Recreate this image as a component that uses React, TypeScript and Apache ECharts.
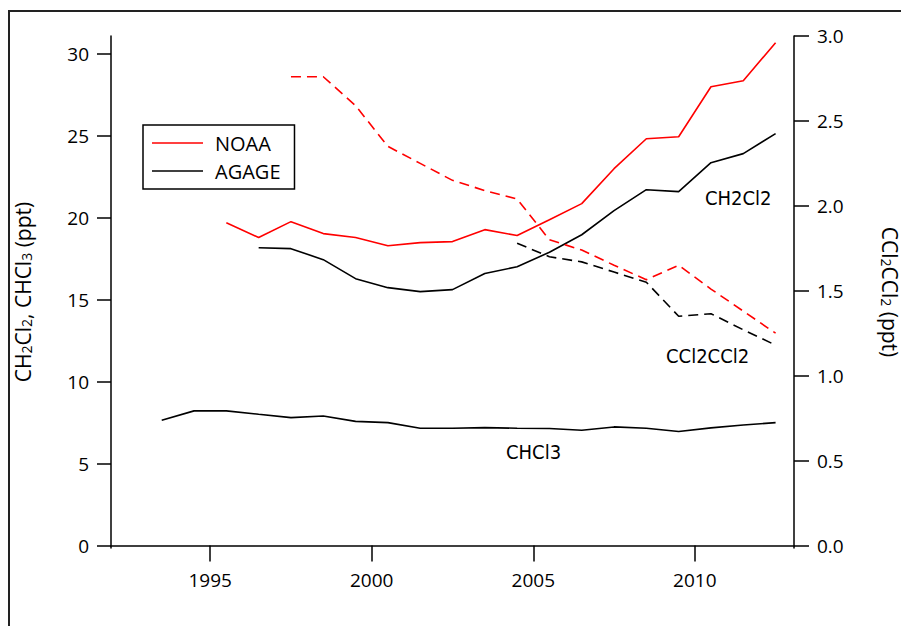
import React, { useEffect, useRef } from "react";
import * as echarts from "echarts";

const noaaCH2Cl2Years = [1995.5, 1996.5, 1997.5, 1998.5, 1999.5, 2000.5, 2001.5, 2002.5, 2003.5, 2004.5, 2005.5, 2006.5, 2007.5, 2008.5, 2009.5, 2010.5, 2011.5, 2012.5];
const noaaCH2Cl2 = [19.7, 18.8, 19.77, 19.04, 18.8, 18.3, 18.49, 18.55, 19.28, 18.92, 19.89, 20.87, 23.0, 24.83, 24.95, 28.0, 28.37, 30.69];

const agageCH2Cl2Years = [1996.5, 1997.5, 1998.5, 1999.5, 2000.5, 2001.5, 2002.5, 2003.5, 2004.5, 2005.5, 2006.5, 2007.5, 2008.5, 2009.5, 2010.5, 2011.5, 2012.5];
const agageCH2Cl2 = [18.18, 18.12, 17.45, 16.29, 15.74, 15.5, 15.62, 16.6, 17.02, 17.9, 18.97, 20.44, 21.72, 21.6, 23.37, 23.92, 25.14];

const agageCHCl3Years = [1993.5, 1994.5, 1995.5, 1996.5, 1997.5, 1998.5, 1999.5, 2000.5, 2001.5, 2002.5, 2003.5, 2004.5, 2005.5, 2006.5, 2007.5, 2008.5, 2009.5, 2010.5, 2011.5, 2012.5];
const agageCHCl3 = [7.65, 8.22, 8.22, 8.01, 7.81, 7.91, 7.58, 7.5, 7.16, 7.16, 7.2, 7.16, 7.14, 7.04, 7.24, 7.16, 6.96, 7.18, 7.36, 7.5];

const noaaCCl2CCl2Years = [1997.5, 1998.5, 1999.5, 2000.5, 2001.5, 2002.5, 2003.5, 2004.5, 2005.5, 2006.5, 2007.5, 2008.5, 2009.5, 2010.5, 2011.5, 2012.5];
const noaaCCl2CCl2 = [2.76, 2.76, 2.59, 2.35, 2.25, 2.15, 2.09, 2.04, 1.8, 1.74, 1.65, 1.565, 1.65, 1.51, 1.38, 1.25];

const agageCCl2CCl2Years = [2004.5, 2005.5, 2006.5, 2007.5, 2008.5, 2009.5, 2010.5, 2011.5, 2012.5];
const agageCCl2CCl2 = [1.78, 1.7, 1.67, 1.61, 1.55, 1.35, 1.365, 1.27, 1.18];

const xTicks = [1995, 2000, 2005, 2010];
const leftTicks = [0, 5, 10, 15, 20, 25, 30];
const rightTicks = [0, 0.5, 1.0, 1.5, 2.0, 2.5, 3.0];

const zip = (xs: number[], ys: number[]) => xs.map((x, i) => [x, ys[i]]);

const TICK_FONT = "'Open Sans', sans-serif";
const NOTE_FONT = "'Liberation Sans Narrow', 'DejaVu Sans Condensed', sans-serif";

export default function App() {
  const ref = useRef<HTMLDivElement>(null);
  useEffect(() => {
    if (!ref.current) return;
    const chart = echarts.init(ref.current, undefined, { renderer: "svg" });
    const axisLine = { show: true, lineStyle: { color: "#000", width: 1.5 } };
    const axisTickStyle = { color: "#000", width: 1.5 };
    const nameRich = {
      n: { fontSize: 21, fontFamily: TICK_FONT, color: "#000", lineHeight: 26, verticalAlign: "bottom" },
      s: { fontSize: 14, fontFamily: TICK_FONT, color: "#000", lineHeight: 16, verticalAlign: "bottom" },
    };
    const option: any = {
      animation: false,
      backgroundColor: "#fff",
      grid: { left: 111, right: 107, top: 36, bottom: 78, containLabel: false, outerBoundsMode: "none" },
      legend: {
        left: 143,
        top: 125,
        orient: "vertical",
        data: [
          { name: "NOAA", icon: "rect" },
          { name: "AGAGE", icon: "rect" },
        ],
        borderColor: "#000",
        borderWidth: 1.5,
        borderRadius: 0,
        padding: [8, 14, 8, 9],
        itemWidth: 51,
        itemHeight: 1.6,
        itemGap: 8,
        selectedMode: false,
        textStyle: { fontSize: 20, fontFamily: TICK_FONT, color: "#000", padding: [0, 0, 0, 7], lineHeight: 20 },
      },
      xAxis: {
        type: "value",
        min: 1991.93,
        max: 2013.07,
        splitLine: { show: false },
        axisLine,
        axisTick: { show: true, inside: false, length: 16, lineStyle: axisTickStyle, customValues: xTicks },
        axisLabel: {
          customValues: xTicks,
          fontSize: 19,
          fontFamily: TICK_FONT,
          color: "#000",
          margin: 22,
          formatter: (v: number) => String(Math.round(v)),
        },
      },
      yAxis: [
        {
          type: "value",
          position: "left",
          min: -0.15,
          max: 31.1,
          splitLine: { show: false },
          axisLine,
          axisTick: { show: true, length: 14, lineStyle: axisTickStyle, customValues: leftTicks },
          axisLabel: { customValues: leftTicks, fontSize: 19, fontFamily: TICK_FONT, color: "#000", margin: 22 },
          name: "{n|CH}{s|2}{n|Cl}{s|2}{n|, CHCl}{s|3}{n| (ppt)}",
          nameLocation: "middle",
          nameRotate: 90,
          nameGap: 78,
          nameTextStyle: { rich: nameRich },
        },
        {
          type: "value",
          position: "right",
          min: -0.0147,
          max: 3.0,
          splitLine: { show: false },
          axisLine,
          axisTick: { show: true, length: 15, lineStyle: axisTickStyle, customValues: rightTicks },
          axisLabel: {
            customValues: rightTicks,
            fontSize: 19,
            fontFamily: TICK_FONT,
            color: "#000",
            margin: 23,
            formatter: (v: number) => v.toFixed(1),
          },
          name: "{n|CCl}{s|2}{n|CCl}{s|2}{n| (ppt)}",
          nameLocation: "middle",
          nameRotate: -90,
          nameGap: 85,
          nameTextStyle: { rich: nameRich },
        },
      ],
      graphic: [
        { type: "line", shape: { x1: 8, y1: 11, x2: 901, y2: 11 }, style: { stroke: "#222", lineWidth: 2 } },
        { type: "line", shape: { x1: 9, y1: 10, x2: 9, y2: 626 }, style: { stroke: "#222", lineWidth: 2 } },
        { type: "text", left: 705, top: 188, style: { text: "CH2Cl2", fontSize: 20, fontFamily: NOTE_FONT, fill: "#000" } },
        { type: "text", left: 666, top: 346, style: { text: "CCl2CCl2", fontSize: 20, fontFamily: NOTE_FONT, fill: "#000" } },
        { type: "text", left: 506, top: 442, style: { text: "CHCl3", fontSize: 20, fontFamily: NOTE_FONT, fill: "#000" } },
      ],
      series: [
        {
          name: "NOAA",
          type: "line",
          yAxisIndex: 0,
          data: zip(noaaCH2Cl2Years, noaaCH2Cl2),
          symbol: "none",
          lineStyle: { color: "#ff0000", width: 1.6 },
          itemStyle: { color: "#ff0000" },
        },
        {
          name: "AGAGE",
          type: "line",
          yAxisIndex: 0,
          data: zip(agageCH2Cl2Years, agageCH2Cl2),
          symbol: "none",
          lineStyle: { color: "#000", width: 1.6 },
          itemStyle: { color: "#000" },
        },
        {
          name: "AGAGE",
          type: "line",
          yAxisIndex: 0,
          data: zip(agageCHCl3Years, agageCHCl3),
          symbol: "none",
          lineStyle: { color: "#000", width: 1.6 },
          itemStyle: { color: "#000" },
        },
        {
          name: "NOAA",
          type: "line",
          yAxisIndex: 1,
          data: zip(noaaCCl2CCl2Years, noaaCCl2CCl2),
          symbol: "none",
          lineStyle: { color: "#ff0000", width: 1.6, type: [10, 6] },
          itemStyle: { color: "#ff0000" },
        },
        {
          name: "AGAGE",
          type: "line",
          yAxisIndex: 1,
          data: zip(agageCCl2CCl2Years, agageCCl2CCl2),
          symbol: "none",
          lineStyle: { color: "#000", width: 1.6, type: [10, 6] },
          itemStyle: { color: "#000" },
        },
      ],
    };
    chart.setOption(option);
    return () => chart.dispose();
  }, []);
  return (
    <div
      ref={ref}
      style={{ position: "absolute", left: 0, top: 0, width: 901, height: 626 }}
    />
  );
}
